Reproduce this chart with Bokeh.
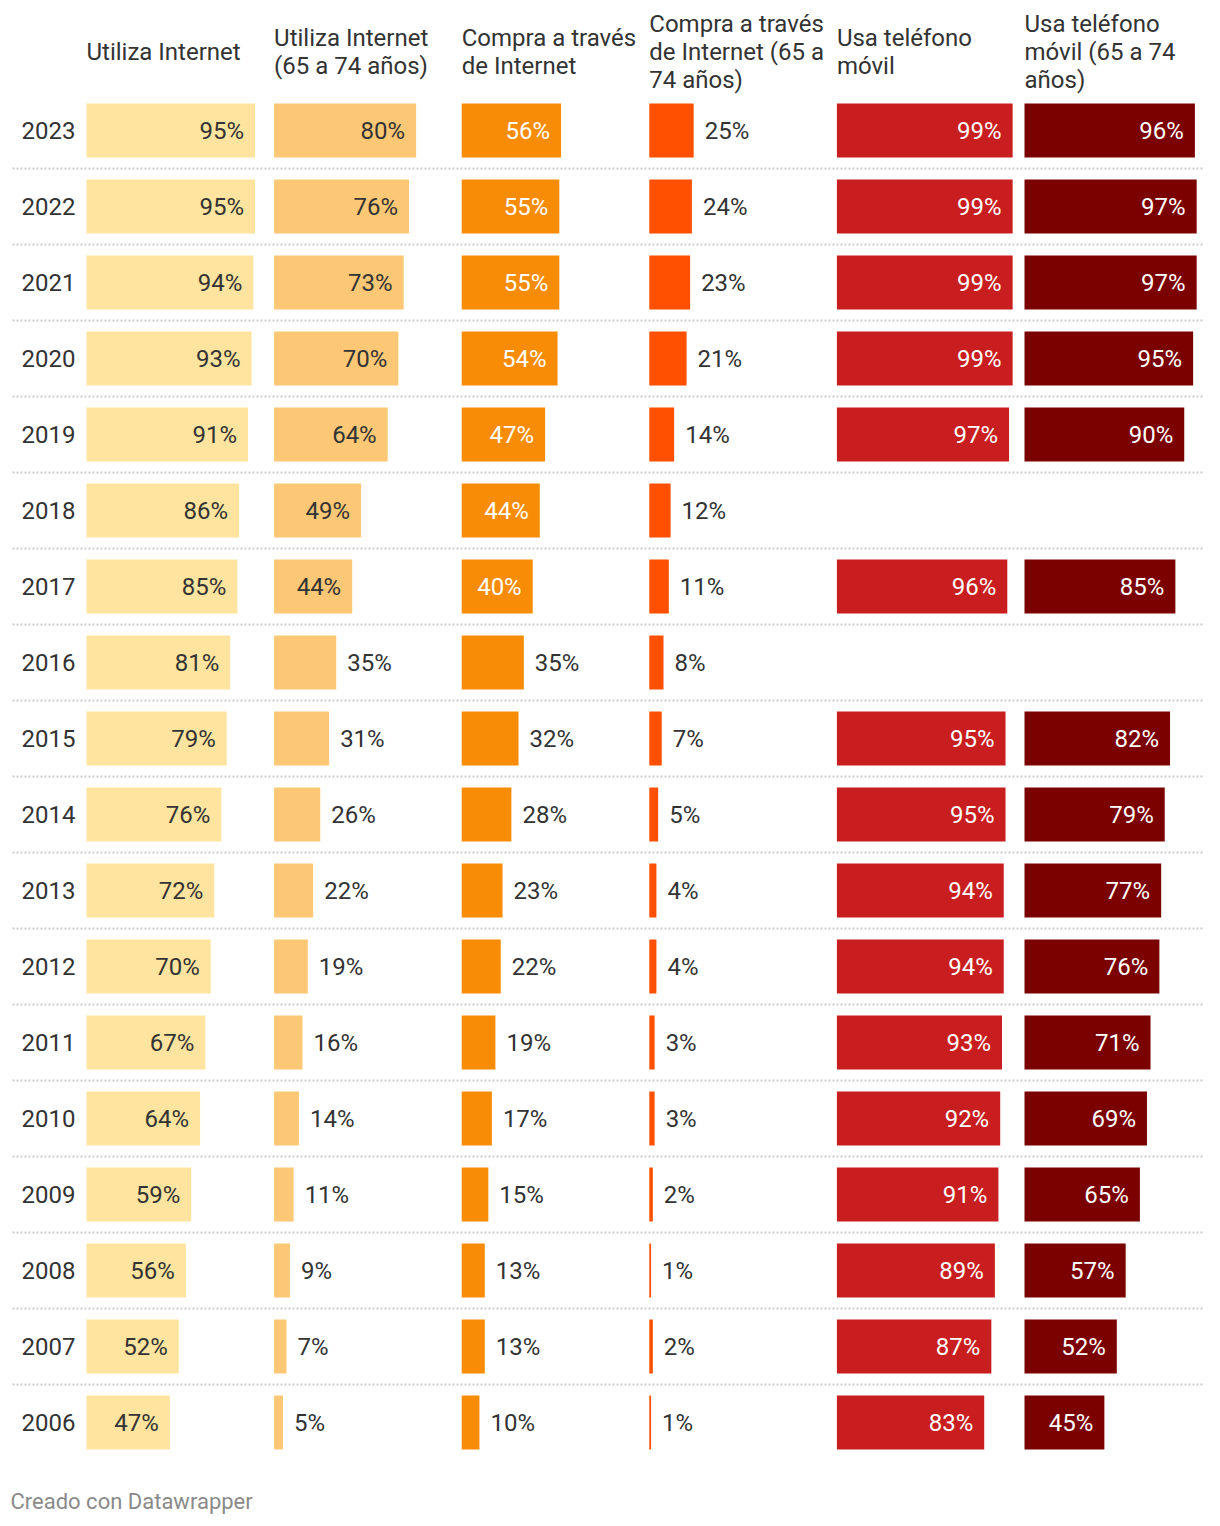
from bokeh.plotting import figure
from bokeh.models import Range1d
from bokeh.core.properties import value
from bokeh.embed import file_html
from bokeh.resources import INLINE

years = [2023, 2022, 2021, 2020, 2019, 2018, 2017, 2016, 2015, 2014, 2013, 2012,
         2011, 2010, 2009, 2008, 2007, 2006]

headers = [
    ["Utiliza Internet"],
    ["Utiliza Internet", "(65 a 74 años)"],
    ["Compra a través", "de Internet"],
    ["Compra a través", "de Internet (65 a", "74 años)"],
    ["Usa teléfono", "móvil"],
    ["Usa teléfono", "móvil (65 a 74", "años)"],
]

utiliza_internet = [95, 95, 94, 93, 91, 86, 85, 81, 79, 76, 72, 70, 67, 64, 59, 56, 52, 47]
utiliza_internet_65 = [80, 76, 73, 70, 64, 49, 44, 35, 31, 26, 22, 19, 16, 14, 11, 9, 7, 5]
compra_internet = [56, 55, 55, 54, 47, 44, 40, 35, 32, 28, 23, 22, 19, 17, 15, 13, 13, 10]
compra_internet_65 = [25, 24, 23, 21, 14, 12, 11, 8, 7, 5, 4, 4, 3, 3, 2, 1, 2, 1]
usa_movil = [99, 99, 99, 99, 97, None, 96, None, 95, 95, 94, 94, 93, 92, 91, 89, 87, 83]
usa_movil_65 = [96, 97, 97, 95, 90, None, 85, None, 82, 79, 77, 76, 71, 69, 65, 57, 52, 45]

series = [utiliza_internet, utiliza_internet_65, compra_internet,
          compra_internet_65, usa_movil, usa_movil_65]
colors = ["#fee49e", "#fdc876", "#f98c06", "#fe5000", "#c91e1f", "#7b0000"]
inside_text_colors = ["#333333", "#333333", "#ffffff", "#ffffff", "#ffffff", "#ffffff"]

# layout (pixel-space coordinates inside the figure)
W, H = 1204, 1518
FONT = "Roboto"
col_x0 = 86.0
col_pitch = 187.6
px_per_pct = 1.775
row_y0 = 130.0
row_pitch = 76.0
bar_h = 54.0
header_cy = 51.0
header_lh = 28.0

p = figure(width=W, height=H, output_backend="svg", toolbar_location=None,
           x_range=Range1d(0, W), y_range=Range1d(H, 0), min_border=0)
p.axis.visible = False
p.grid.visible = False
p.outline_line_color = None
p.background_fill_color = "white"
p.border_fill_color = "white"

row_centers = [row_y0 + i * row_pitch for i in range(len(years))]

# separators
sep_ys = [c + row_pitch / 2 for c in row_centers[:-1]]
p.segment(x0=[12] * len(sep_ys), x1=[1204] * len(sep_ys), y0=sep_ys, y1=sep_ys,
          line_color="#cccccc", line_width=2, line_dash="2 2")

# year labels
p.text(x=[21] * len(years), y=row_centers, text=[str(y) for y in years],
       text_font=value(FONT), text_font_size="24px", text_color="#333333",
       text_baseline="middle", text_align="left")

# headers
hx, hy, ht = [], [], []
for c, lines in enumerate(headers):
    n = len(lines)
    for j, ln in enumerate(lines):
        hx.append(col_x0 + c * col_pitch)
        hy.append(header_cy + (j - (n - 1) / 2) * header_lh)
        ht.append(ln)
p.text(x=hx, y=hy, text=ht, text_font=value(FONT), text_font_size="24px",
       text_color="#333333", text_baseline="middle", text_align="left")

for c, vals in enumerate(series):
    x0 = col_x0 + c * col_pitch
    left, right, top, bottom = [], [], [], []
    in_x, in_y, in_t = [], [], []
    out_x, out_y, out_t = [], [], []
    for i, v in enumerate(vals):
        if v is None:
            continue
        r = x0 + v * px_per_pct
        cy = row_centers[i]
        left.append(x0); right.append(r)
        top.append(cy - bar_h / 2); bottom.append(cy + bar_h / 2)
        lab = f"{v}%"
        if v >= 38:
            in_x.append(r - 11); in_y.append(cy); in_t.append(lab)
        else:
            out_x.append(r + 11); out_y.append(cy); out_t.append(lab)
    p.quad(left=left, right=right, top=top, bottom=bottom,
           fill_color=colors[c], line_color=None)
    if in_t:
        p.text(x=in_x, y=in_y, text=in_t, text_font=value(FONT), text_font_size="24px",
               text_color=inside_text_colors[c], text_baseline="middle", text_align="right")
    if out_t:
        p.text(x=out_x, y=out_y, text=out_t, text_font=value(FONT), text_font_size="24px",
               text_color="#333333", text_baseline="middle", text_align="left")

# footer
p.text(x=[10], y=[1501], text=["Creado con Datawrapper"], text_font=value(FONT),
       text_font_size="22px", text_color="#8a8a8a", text_baseline="middle",
       text_align="left")

open("out.html", "w").write(file_html(p, INLINE))
